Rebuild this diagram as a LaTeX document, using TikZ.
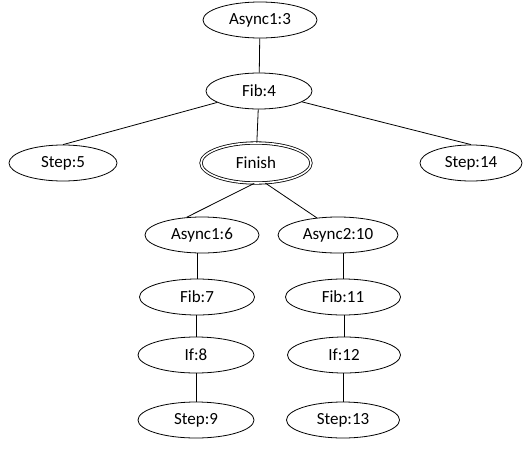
\documentclass[tikz,border=0pt]{standalone}
\usepackage{fontspec}
\setmainfont{Carlito}
\usetikzlibrary{shapes.geometric}

\begin{document}
\begin{tikzpicture}[x=1pt,y=-1pt,line width=.8pt,
    stmt/.style={ellipse,draw,inner sep=0pt,minimum height=36pt,
      font=\fontsize{17}{20}\selectfont},
    finnode/.style={stmt,double,double distance=1.6pt,minimum height=40pt}]
  \useasboundingbox (0,0) rectangle (532,450);
  % statement nodes: name/x/y/width/label
  \foreach \nm/\x/\y/\w/\txt in {%
    a3/260/20/114/Async1:3,
    f4/259/91/106/Fib:4,
    s5/63/163/108/Step:5,
    s14/471/163/102/Step:14,
    a6/202/235/114/Async1:6,
    a10/338/235/120/Async2:10,
    f7/197/297/115/Fib:7,
    f11/343/297/115/Fib:11,
    i8/196/355/116/If:8,
    i12/344/355/113/If:12,
    s9/196/420/116/Step:9,
    s13/343/420/113/Step:13}{%
      \node[stmt,minimum width=\w pt] (\nm) at (\x,\y) {\txt};
    }
  \node[finnode,minimum width=110pt] (fin) at (256,163) {Finish};
  \draw (a3)--(f4) (f4)--(s5.north) (f4)--(s14.north) (f4)--(fin);
  \draw (fin.265)--(a6.131) (fin.295)--(a10.141);
  \foreach \u/\v in {a6/f7,f7/i8,i8/s9,a10/f11,f11/i12,i12/s13}
    \draw (\v.north |- \u.south)--(\v.north);
\end{tikzpicture}
\end{document}
